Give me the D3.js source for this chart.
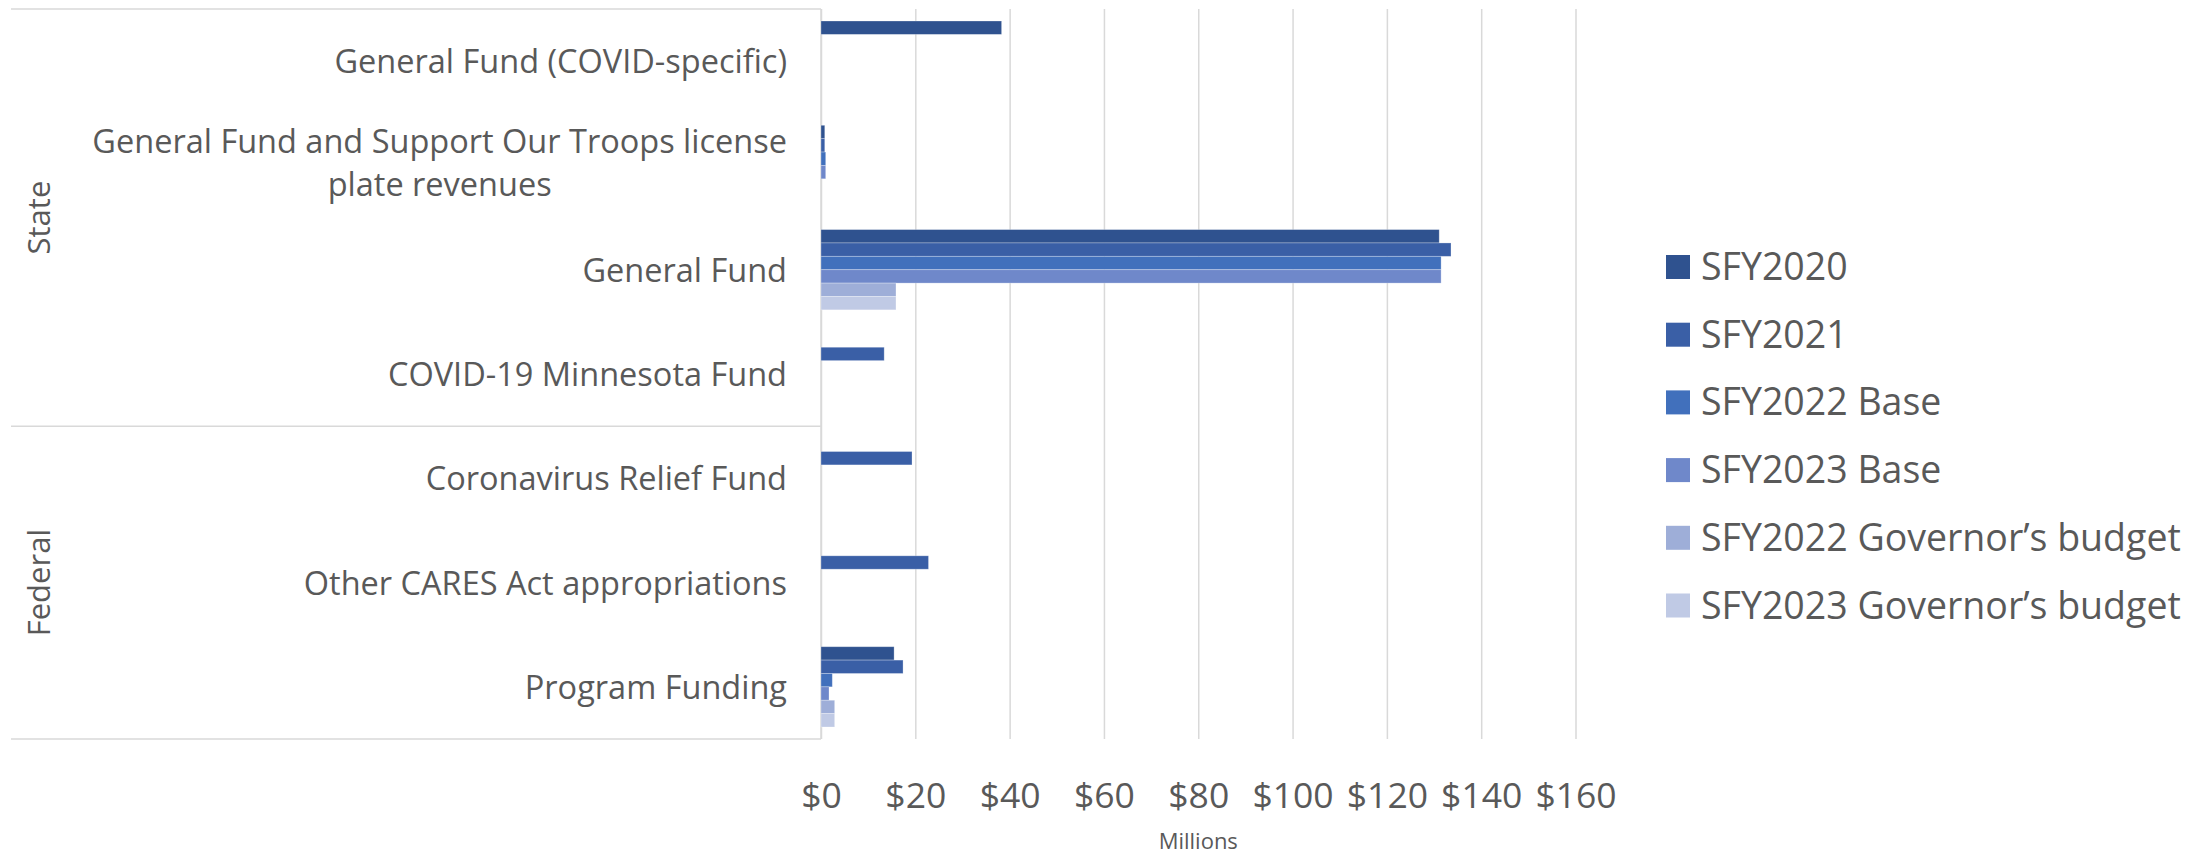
<!DOCTYPE html>
<html>
<head>
<meta charset="utf-8">
<script src="https://cdn.jsdelivr.net/npm/d3@7"></script>
<style>
  html, body { margin: 0; padding: 0; background: #fff; }
  svg text { font-family: "Open Sans", "Noto Sans", sans-serif; fill: #595959; }
</style>
</head>
<body>
<svg id="chart"></svg>
<script>
// categories, top to bottom
const categories = [
  "General Fund (COVID-specific)",
  "General Fund and Support Our Troops license plate revenues",
  "General Fund",
  "COVID-19 Minnesota Fund",
  "Coronavirus Relief Fund",
  "Other CARES Act appropriations",
  "Program Funding"
];
const groups = [
  { name: "State", first: 0, last: 3 },
  { name: "Federal", first: 4, last: 6 }
];
const seriesNames = [
  "SFY2020", "SFY2021", "SFY2022 Base", "SFY2023 Base",
  "SFY2022 Governor\u2019s budget", "SFY2023 Governor\u2019s budget"
];
const seriesColors = ["#2f528f", "#3a5fa6", "#4170bc", "#6f88ca", "#9eaed8", "#c0cae5"];

// millions of dollars, one value per category (null = no bar)
const sfy2020    = [38.3, 0.8, 131.1, null, null, null, 15.5];
const sfy2021    = [null, 0.8, 133.6, 13.4, 19.3, 22.8, 17.4];
const sfy2022Base = [null, 1.0, 131.5, null, null, null, 2.4];
const sfy2023Base = [null, 1.0, 131.5, null, null, null, 1.7];
const sfy2022Gov = [null, null, 15.9, null, null, null, 2.9];
const sfy2023Gov = [null, null, 15.9, null, null, null, 2.9];
const seriesValues = [sfy2020, sfy2021, sfy2022Base, sfy2023Base, sfy2022Gov, sfy2023Gov];

const tickValues = [0, 20, 40, 60, 80, 100, 120, 140, 160];
const tickLabels = ["$0", "$20", "$40", "$60", "$80", "$100", "$120", "$140", "$160"];

const W = 2208, H = 856;
const plot = { left: 821, right: 1575.5, top: 9, bottom: 739 };
const gridColor = "#d9d9d9";

const svg = d3.select("#chart").attr("width", W).attr("height", H);

const x = d3.scaleLinear().domain([0, 160]).range([plot.left, plot.right]);
const y = d3.scaleBand().domain(categories).range([plot.top, plot.bottom]).padding(0);
const ySub = d3.scaleBand().domain(seriesNames).range([12, y.bandwidth() - 12]).padding(0);

// gridlines + tick labels via axis
const xAxis = svg.append("g")
  .attr("transform", `translate(0,${plot.bottom})`)
  .call(d3.axisBottom(x)
    .tickValues(tickValues)
    .tickFormat((d, i) => tickLabels[i])
    .tickSize(-(plot.bottom - plot.top))
    .tickPadding(44));
xAxis.select(".domain").remove();
xAxis.selectAll(".tick line").attr("stroke", gridColor).attr("stroke-width", 1.5);
xAxis.selectAll(".tick text")
  .style("font-size", "35.5px")
  .style("font-family", "'Open Sans', sans-serif")
  .attr("fill", "#595959");

// left category box lines
const boundaries = [plot.top, y(categories[groups[1].first]), plot.bottom];
svg.selectAll(".sep")
  .data(boundaries)
  .enter().append("line")
  .attr("class", "sep")
  .attr("x1", 11).attr("x2", plot.left)
  .attr("y1", d => d).attr("y2", d => d)
  .attr("stroke", gridColor).attr("stroke-width", 1.5);

svg.append("line")
  .attr("x1", x(0)).attr("x2", x(0))
  .attr("y1", plot.top).attr("y2", plot.bottom)
  .attr("stroke", gridColor).attr("stroke-width", 1.5);

// bars
const barData = [];
seriesNames.forEach((s, si) => {
  categories.forEach((c, ci) => {
    const v = seriesValues[si][ci];
    if (v != null) barData.push({ series: s, cat: c, value: v, color: seriesColors[si] });
  });
});

svg.selectAll(".bar")
  .data(barData)
  .enter().append("rect")
  .attr("class", "bar")
  .attr("x", x(0))
  .attr("y", d => y(d.cat) + ySub(d.series))
  .attr("width", d => x(d.value) - x(0))
  .attr("height", ySub.bandwidth())
  .attr("fill", d => d.color)
  .attr("stroke", "rgba(255,255,255,0.35)")
  .attr("stroke-width", 0.8);

// category labels
const labelRight = 787;
const catLines = {
  "General Fund and Support Our Troops license plate revenues":
    ["General Fund and Support Our Troops license", "plate revenues"]
};
categories.forEach(c => {
  const cy = y(c) + y.bandwidth() / 2;
  const lines = catLines[c];
  if (!lines) {
    svg.append("text")
      .attr("x", labelRight)
      .attr("y", cy + 12)
      .attr("text-anchor", "end")
      .style("font-size", "32.5px")
      .text(c);
  } else {
    const t = svg.append("text")
      .attr("text-anchor", "middle")
      .style("font-size", "32.5px");
    const first = t.append("tspan").attr("y", cy - 12).text(lines[0]);
    t.append("tspan").attr("y", cy + 31).text(lines[1]);
    const w = first.node().getComputedTextLength();
    t.selectAll("tspan").attr("x", labelRight - w / 2);
  }
});

// group labels
groups.forEach(g => {
  const top = y(categories[g.first]);
  const bottom = y(categories[g.last]) + y.bandwidth();
  svg.append("text")
    .attr("transform", `translate(50,${(top + bottom) / 2}) rotate(-90)`)
    .attr("text-anchor", "middle")
    .style("font-size", "31px")
    .text(g.name);
});

// axis title
svg.append("text")
  .attr("x", (plot.left + plot.right) / 2)
  .attr("y", 849)
  .attr("text-anchor", "middle")
  .style("font-size", "22px")
  .text("Millions");

// legend
const legend = svg.append("g").attr("transform", "translate(1666,267)");
const rows = legend.selectAll(".row")
  .data(seriesNames)
  .enter().append("g")
  .attr("class", "row")
  .attr("transform", (d, i) => `translate(0,${i * 67.7})`);
rows.append("rect")
  .attr("x", 0).attr("y", -12)
  .attr("width", 24).attr("height", 24)
  .attr("fill", (d, i) => seriesColors[i]);
rows.append("text")
  .attr("x", 35).attr("y", 13)
  .style("font-size", "37.5px")
  .text(d => d);
</script>
</body>
</html>
